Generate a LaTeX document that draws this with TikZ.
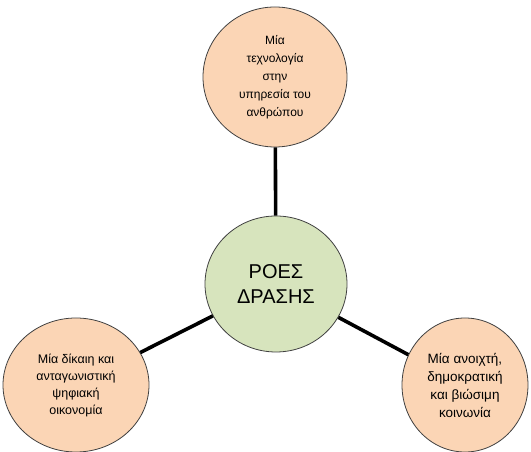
\documentclass[tikz,border=0pt]{standalone}
\usepackage{fontspec}
\setmainfont{Liberation Sans}
\usepackage{xcolor}
\usetikzlibrary{shapes.geometric}

\definecolor{peach}{RGB}{251,213,181}
\definecolor{sage}{RGB}{215,228,189}

\begin{document}
\begin{tikzpicture}[
  x=1pt, y=1pt,
  font=\fontsize{12}{18}\selectfont,
  idea/.style={
    ellipse, draw=black!75, fill=peach, line width=0.8pt,
    inner sep=0pt, align=center
  },
  core/.style={idea, fill=sage, font=\fontsize{20}{25}\selectfont},
  link/.style={line width=3.6pt, draw=black}
]
  \useasboundingbox (0,0) rectangle (531,452);

  %% centre
  \node[core, minimum width=142, minimum height=136] (roes) at (276,168) {ΡΟΕΣ\\ΔΡΑΣΗΣ};

  %% three aims
  \node[idea, minimum width=144, minimum height=140] (tech) at (275,375)
    {Μία\\τεχνολογία\\στην\\υπηρεσία του\\ανθρώπου};
  \node[idea, minimum width=146, minimum height=134,
        font=\fontsize{12.5}{17}\selectfont] (econ) at (76,67)
    {Μία δίκαιη και\\ανταγωνιστική\\ψηφιακή\\οικονομία};
  \node[idea, minimum width=126, minimum height=134,
        font=\fontsize{13.5}{18}\selectfont] (soc) at (465,67)
    {Μία ανοιχτή,\\δημοκρατική\\και βιώσιμη\\κοινωνία};

  %% links
  \draw[link] (tech) -- (roes);
  \draw[link] (econ) -- (roes);
  \draw[link] (soc) -- (roes);
\end{tikzpicture}
\end{document}
